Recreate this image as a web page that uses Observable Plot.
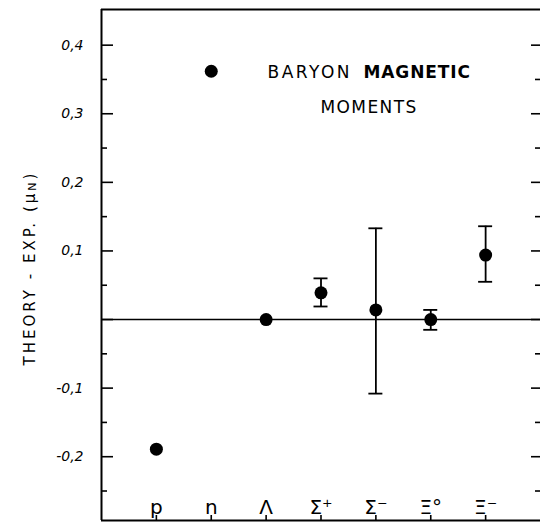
<!DOCTYPE html>
<html><head><meta charset="utf-8">
<script src="https://cdn.jsdelivr.net/npm/d3@7"></script>
<script src="https://cdn.jsdelivr.net/npm/@observablehq/plot@0.6"></script>
<style>body{margin:0;background:#fff}</style>
</head><body><div id="chart"></div>
<script>
// Categories (baryons) and their positions along the x axis
const cats = ["p", "n", "Λ", "Σ⁺", "Σ⁻", "Ξ°", "Ξ⁻"];
const pos = [1, 2, 3, 4, 5, 6, 7];
// Theory − experiment (μN)
const value = [-0.189, 0.362, 0.0, 0.039, 0.014, 0.0, 0.094];
// Error bar bounds
const errLo = [null, null, null, 0.019, -0.108, -0.015, 0.055];
const errHi = [null, null, null, 0.060, 0.133, 0.014, 0.136];
// Axis ticks
const majorTicks = [-0.2, -0.1, 0, 0.1, 0.2, 0.3, 0.4];
const minorTicks = [-0.25, -0.15, -0.05, 0.05, 0.15, 0.25, 0.35];
const labelTicks = [-0.2, -0.1, 0.1, 0.2, 0.3, 0.4];
const yMin = -0.293, yMax = 0.452;
const xMin = 0, xMax = 8;

const data = cats.map((c, i) => ({cat: c, pos: pos[i], value: value[i], lo: errLo[i], hi: errHi[i]}));
const bars = data.filter(d => d.lo != null);
const fmt = d => (d < 0 ? "-" : "") + Math.abs(d).toFixed(1).replace(".", ",");
const font = "'DejaVu Sans', sans-serif";

const svg = Plot.plot({
  width: 540, height: 523,
  marginLeft: 101, marginRight: 0, marginTop: 9, marginBottom: 3,
  style: {fontFamily: font, background: "white", color: "black"},
  x: {domain: [xMin, xMax], axis: null},
  y: {domain: [yMin, yMax], axis: null},
  marks: [
    Plot.ruleX([xMin], {stroke: "black", strokeWidth: 2}),
    Plot.ruleY([yMax, yMin], {stroke: "black", strokeWidth: 2}),
    Plot.ruleY([0], {stroke: "black", strokeWidth: 1.6}),
    // left ticks (inward)
    Plot.axisY({anchor: "left", ticks: majorTicks, tickSize: 12, dx: 12, text: null, label: null, strokeWidth: 1.6}),
    Plot.axisY({anchor: "left", ticks: minorTicks, tickSize: 6, dx: 6, text: null, label: null, strokeWidth: 1.6}),
    Plot.axisY({anchor: "left", ticks: labelTicks, tickSize: 0, tickPadding: 18, tickFormat: fmt, label: null,
      fontSize: 14, fontStyle: "italic"}),
    // right ticks (inward)
    Plot.axisY({anchor: "right", ticks: majorTicks, tickSize: 10, dx: -10, text: null, label: null, strokeWidth: 1.6}),
    Plot.axisY({anchor: "right", ticks: minorTicks, tickSize: 6, dx: -6, text: null, label: null, strokeWidth: 1.6}),
    // bottom ticks (inward)
    Plot.axisX({anchor: "bottom", ticks: pos, tickSize: 5, dy: -5, text: null, label: null, strokeWidth: 1.6}),
    Plot.text(data, {x: "pos", text: "cat", frameAnchor: "bottom", dy: -7, lineAnchor: "bottom", fontSize: 20}),
    // error bars
    Plot.ruleX(bars, {x: "pos", y1: "lo", y2: "hi", stroke: "black", strokeWidth: 1.8}),
    Plot.ruleY(bars, {y: "lo", x1: "pos", x2: "pos", insetLeft: -7, insetRight: -7, stroke: "black", strokeWidth: 1.8}),
    Plot.ruleY(bars, {y: "hi", x1: "pos", x2: "pos", insetLeft: -7, insetRight: -7, stroke: "black", strokeWidth: 1.8}),
    // points
    Plot.dot(data, {x: "pos", y: "value", r: 6.5, fill: "black", stroke: "none"}),
    // annotation
    Plot.text(["BARYON"], {frameAnchor: "top-left", dx: 166, dy: 63, textAnchor: "start", lineAnchor: "middle", fontSize: 17}),
    Plot.text(["MAGNETIC"], {frameAnchor: "top-left", dx: 262, dy: 63, textAnchor: "start", lineAnchor: "middle", fontSize: 17, fontWeight: "bold"}),
    Plot.text(["MOMENTS"], {frameAnchor: "top-left", dx: 219, dy: 98, textAnchor: "start", lineAnchor: "middle", fontSize: 17})
  ]
});

// letter spacing for the hand-lettered annotation
const spacing = {"BARYON": 2.5, "MAGNETIC": 0.9, "MOMENTS": 1.4};
d3.select(svg).selectAll("text").each(function() {
  const s = spacing[this.textContent];
  if (s != null) this.setAttribute("letter-spacing", s);
});

// y-axis title with subscript N
const t = d3.select(svg).append("text")
  .attr("transform", "translate(30,268) rotate(-90)")
  .attr("text-anchor", "middle")
  .attr("dominant-baseline", "middle")
  .attr("font-family", font)
  .attr("font-size", 15)
  .attr("letter-spacing", 3)
  .attr("fill", "black");
t.append("tspan").text("THEORY - EXP. (μ");
t.append("tspan").attr("font-size", 11).attr("dy", 3).text("N");
t.append("tspan").attr("dy", -3).text(")");

document.getElementById("chart").appendChild(svg);
</script>
</body></html>
